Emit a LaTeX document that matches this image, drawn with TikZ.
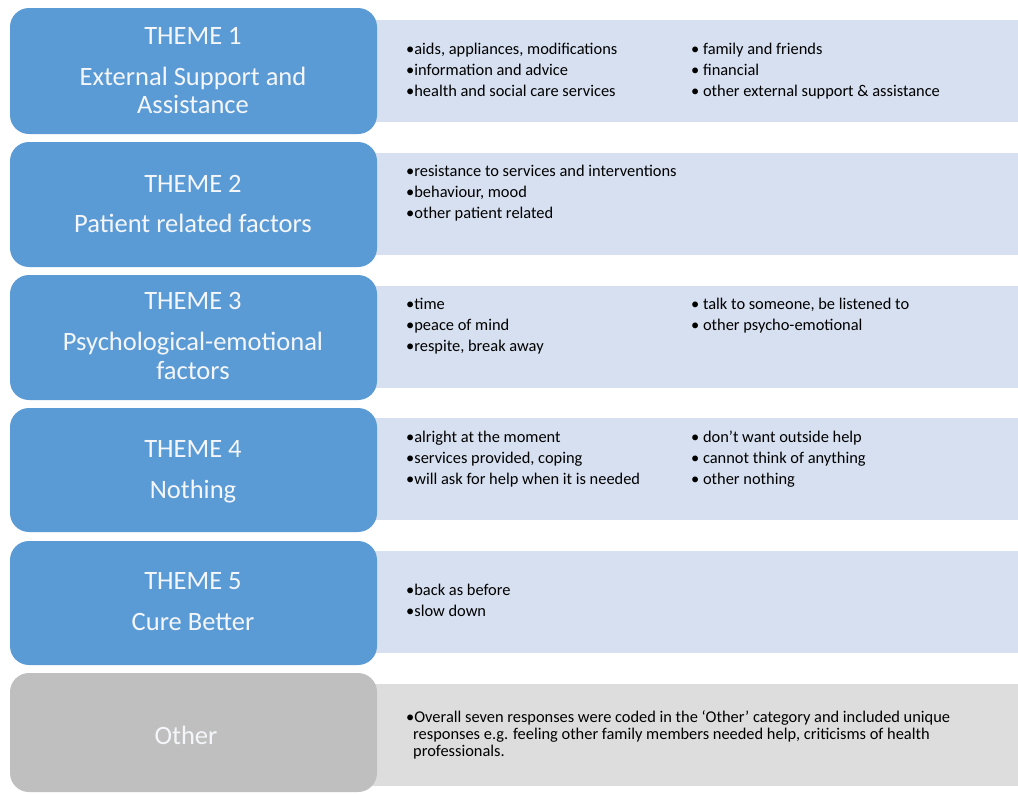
\documentclass[tikz,border=0pt]{standalone}
\usepackage{fontspec}
\setmainfont{Carlito}
\definecolor{themeblue}{HTML}{5B9BD5}
\definecolor{panelblue}{HTML}{D6E0F0}
\definecolor{othergray}{HTML}{BFBFBF}
\definecolor{panelgray}{HTML}{DDDDDD}
\definecolor{softwhite}{HTML}{F4F6FA}
\tikzset{
  themebox/.style={fill=themeblue, draw=none, rounded corners=19pt},
  otherbox/.style={fill=othergray, draw=none, rounded corners=19pt},
  panel/.style={fill=panelblue, draw=none},
  graypanel/.style={fill=panelgray, draw=none},
  title/.style={anchor=base, inner sep=0pt, text=softwhite, font=\fontsize{26.5}{30}\selectfont},
  item/.style={anchor=base west, inner sep=0pt, text=black, font=\fontsize{16.4}{19}\selectfont},
}
\begin{document}
\begin{tikzpicture}[x=1pt,y=-1pt]
\useasboundingbox (0,0) rectangle (1018,793);
\fill[white] (0,0) rectangle (1018,793);
% panels
\path[panel] (370,20) rectangle (1018,122);
\path[panel] (370,153) rectangle (1018,255);
\path[panel] (370,286) rectangle (1018,388);
\path[panel] (370,418) rectangle (1018,520);
\path[panel] (370,551) rectangle (1018,653);
\path[graypanel] (370,684) rectangle (1018,786);
% left boxes
\path[themebox] (10,8) rectangle (377,134);
\path[themebox] (10,142) rectangle (377,267);
\path[themebox] (10,275) rectangle (377,400);
\path[themebox] (10,408) rectangle (377,532);
\path[themebox] (10,541) rectangle (377,665);
\path[otherbox] (10,673) rectangle (377,792);
% titles
\node[title] (t1a) at (193,44) {THEME 1};
\node[title] (t1b) at (193,85) {External Support and};
\node[title] (t1c) at (193,113) {Assistance};
\node[title] (t2a) at (193,192) {THEME 2};
\node[title] (t2b) at (193,232) {Patient related factors};
\node[title] (t3a) at (193,309) {THEME 3};
\node[title] (t3b) at (193,350) {Psychological-emotional};
\node[title] (t3c) at (193,379) {factors};
\node[title] (t4a) at (193,457) {THEME 4};
\node[title] (t4b) at (193,498) {Nothing};
\node[title] (t5a) at (193,589) {THEME 5};
\node[title] (t5b) at (193,630) {Cure Better};
\node[title] (t6) at (186,744) {Other};
% theme 1 items
\node[item] (i11) at (406,54) {•aids, appliances, modifications};
\node[item] (i12) at (406,75) {•information and advice};
\node[item] (i13) at (406,96) {•health and social care services};
\node[item] (i14) at (691,54) {• family and friends};
\node[item] (i15) at (691,75) {• financial};
\node[item] (i16) at (691,96) {• other external support \& assistance};
% theme 2 items
\node[item] (i21) at (406,176) {•resistance to services and interventions};
\node[item] (i22) at (406,197) {•behaviour, mood};
\node[item] (i23) at (406,218) {•other patient related};
% theme 3 items
\node[item] (i31) at (406,309) {•time};
\node[item] (i32) at (406,330) {•peace of mind};
\node[item] (i33) at (406,351) {•respite, break away};
\node[item] (i34) at (691,309) {• talk to someone, be listened to};
\node[item] (i35) at (691,330) {• other psycho-emotional};
% theme 4 items
\node[item] (i41) at (406,442) {•alright at the moment};
\node[item] (i42) at (406,463) {•services provided, coping};
\node[item] (i43) at (406,484) {•will ask for help when it is needed};
\node[item] (i44) at (691,442) {• don’t want outside help};
\node[item] (i45) at (691,463) {• cannot think of anything};
\node[item] (i46) at (691,484) {• other nothing};
% theme 5 items
\node[item] (i51) at (406,595) {•back as before};
\node[item] (i52) at (406,616) {•slow down};
% other items
\node[item] (i61) at (406,722) {•Overall seven responses were coded in the ‘Other’ category and included unique};
\node[item] (i62) at (413,739) {responses e.g. feeling other family members needed help, criticisms of health};
\node[item] (i63) at (413,756) {professionals.};
\end{tikzpicture}
\end{document}
